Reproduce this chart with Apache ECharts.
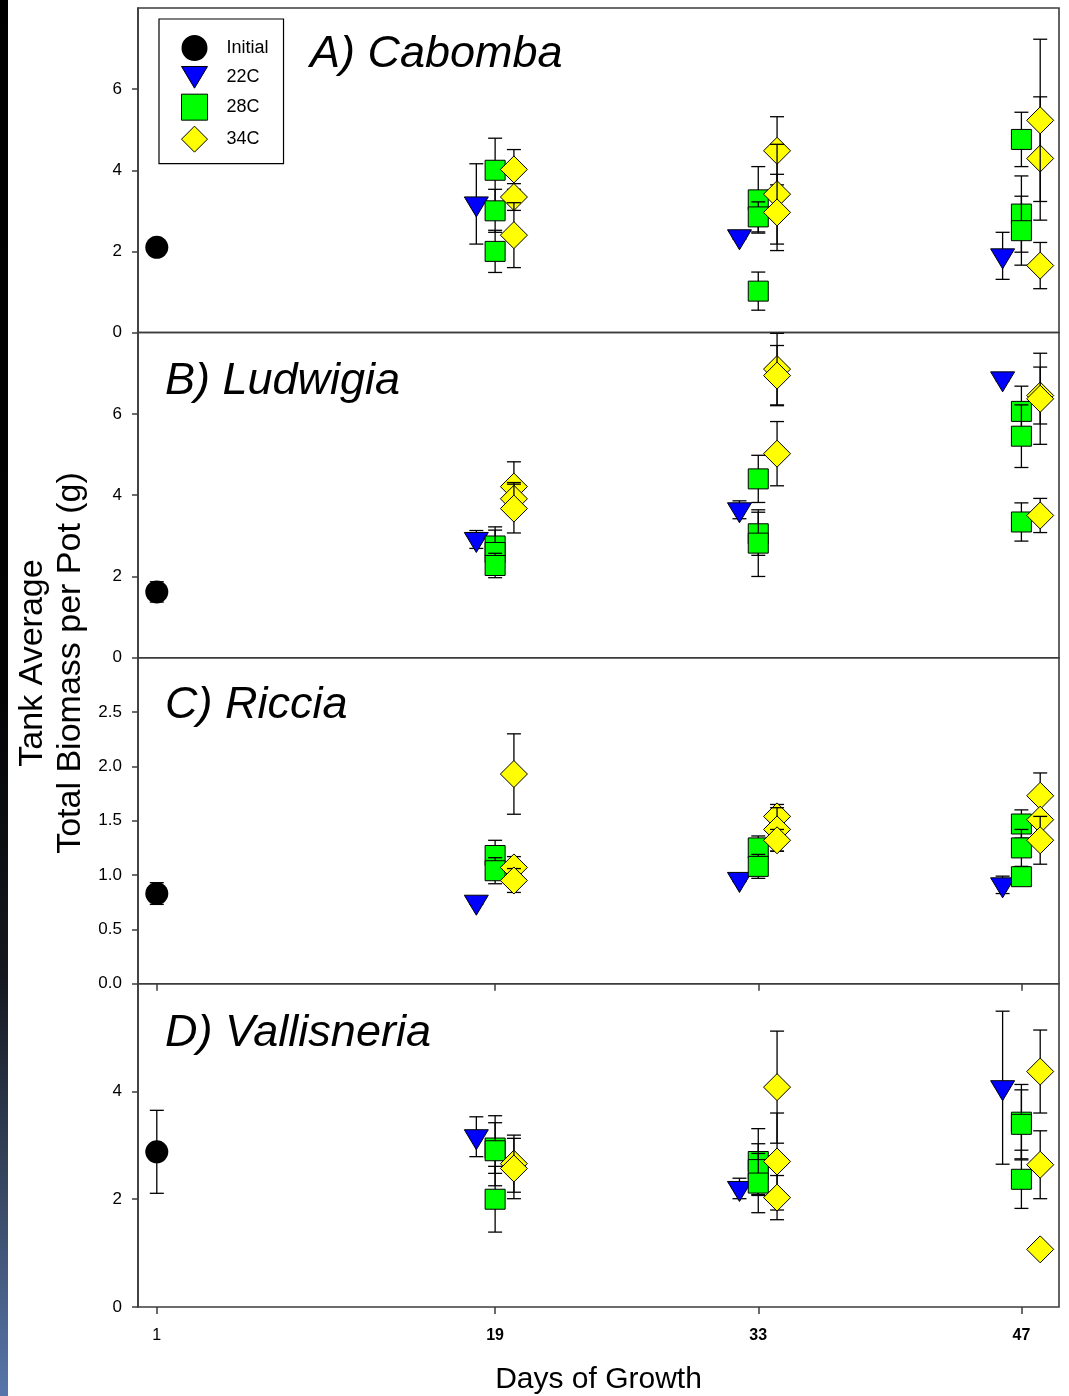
<!DOCTYPE html>
<html>
<head>
<meta charset="utf-8">
<script src="https://cdn.jsdelivr.net/npm/echarts@6/dist/echarts.min.js"></script>
<style>
  html, body { margin: 0; padding: 0; background: #ffffff; }
  #chart { width: 1069px; height: 1396px; }
</style>
</head>
<body>
<div id="chart"></div>
<script>
// ---------------- DATA ([day, mean, error]) ----------------
const dayTicks = [1, 19, 33, 47];
const groupNames = ['Initial', '22C', '28C', '34C'];

// A) Cabomba
const cabombaInitial = [[1, 2.10, 0.08]];
const cabomba22C = [[19, 3.17, 0.99], [33, 2.36, 0.06], [47, 1.89, 0.58]];
const cabomba28C = [[19, 4.00, 0.79], [19, 3.00, 0.53], [19, 2.00, 0.52],
                    [33, 3.27, 0.82], [33, 2.85, 0.37], [33, 1.02, 0.47],
                    [47, 4.76, 0.67], [47, 2.92, 0.94], [47, 2.51, 0.85]];
const cabomba34C = [[19, 4.02, 0.49], [19, 3.34, 0.33], [19, 2.40, 0.80],
                    [33, 4.48, 0.84], [33, 3.41, 1.23], [33, 2.96, 0.94],
                    [47, 4.29, 1.52], [47, 5.23, 2.00], [47, 1.65, 0.57]];

// B) Ludwigia
const ludwigiaInitial = [[1, 1.62, 0.25]];
const ludwigia22C = [[19, 2.91, 0.22], [33, 3.64, 0.22], [47, 6.86, 0.05]];
const ludwigia28C = [[19, 2.75, 0.47], [19, 2.59, 0.55], [19, 2.27, 0.30],
                     [33, 4.40, 0.58], [33, 3.05, 0.53], [33, 2.82, 0.82],
                     [47, 6.06, 0.62], [47, 5.45, 0.77], [47, 3.34, 0.47]];
const ludwigia34C = [[19, 4.21, 0.61], [19, 3.91, 0.40], [19, 3.67, 0.60],
                     [33, 7.10, 0.88], [33, 6.94, 0.74], [33, 5.02, 0.79],
                     [47, 6.45, 0.70], [47, 6.37, 1.12], [47, 3.50, 0.42]];

// C) Riccia
const ricciaInitial = [[1, 0.83, 0.10]];
const riccia22C = [[19, 0.75, 0.02], [33, 0.96, 0.02], [47, 0.91, 0.08]];
const riccia28C = [[19, 1.18, 0.14], [19, 1.04, 0.12],
                   [33, 1.25, 0.11], [33, 1.08, 0.11],
                   [47, 1.47, 0.13], [47, 1.25, 0.17], [47, 0.985, 0.05]];
const riccia34C = [[19, 1.93, 0.37], [19, 1.07, 0.10], [19, 0.95, 0.11],
                   [33, 1.54, 0.11], [33, 1.42, 0.20], [33, 1.32, 0.10],
                   [47, 1.73, 0.21], [47, 1.51, 0.05], [47, 1.32, 0.22]];

// D) Vallisneria
const vallisneriaInitial = [[1, 2.88, 0.77]];
const vallisneria22C = [[19, 3.16, 0.37], [33, 2.20, 0.19], [47, 4.07, 1.42]];
const vallisneria28C = [[19, 2.95, 0.47], [19, 2.90, 0.65], [19, 2.00, 0.61],
                        [33, 2.70, 0.61], [33, 2.55, 0.48], [33, 2.30, 0.55],
                        [47, 3.43, 0.70], [47, 3.39, 0.64], [47, 2.37, 0.54]];
const vallisneria34C = [[19, 2.66, 0.53], [19, 2.57, 0.56],
                        [33, 4.08, 1.04], [33, 2.70, 0.90], [33, 2.03, 0.41],
                        [47, 4.37, 0.77], [47, 2.64, 0.63], [47, 1.07, 0.05]];

const panelTitles = ['A) Cabomba', 'B) Ludwigia', 'C) Riccia', 'D) Vallisneria'];
const panelYMax = [8, 8, 3, 6];
const panelYStep = [2, 2, 0.5, 2];
const panelData = [
  [cabombaInitial, cabomba22C, cabomba28C, cabomba34C],
  [ludwigiaInitial, ludwigia22C, ludwigia28C, ludwigia34C],
  [ricciaInitial, riccia22C, riccia28C, riccia34C],
  [vallisneriaInitial, vallisneria22C, vallisneria28C, vallisneria34C]
];

// ---------------- STYLE / LAYOUT ----------------
const FONT = '"Liberation Sans", Arial, Helvetica, sans-serif';
const gridTops = [8, 332.5, 657.8, 983.7];
const gridHeights = [324.5, 325.3, 325.9, 324];
const titleLefts = [310, 165, 165, 165];
const titleBaselines = [68, 395, 718.5, 1046.7];
const groupOffset = [0, -1, 0, 1];            // horizontal jitter (days)
const groupColor = ['#000000', '#0000ff', '#00ff00', '#ffff00'];
const groupShape = ['circle', 'triangle', 'square', 'diamond'];
const AX = '#3c3c3c';

function symbolEl(shape, c, color) {
  const cx = c[0], cy = c[1];
  const st = { fill: color, stroke: '#000', lineWidth: 1 };
  if (shape === 'circle') {
    return { type: 'circle', shape: { cx, cy, r: 11.5 }, style: { fill: color } };
  }
  if (shape === 'triangle') {
    return { type: 'polygon', shape: { points: [[cx - 12, cy - 7], [cx + 12, cy - 7], [cx, cy + 13]] }, style: st };
  }
  if (shape === 'square') {
    return { type: 'rect', shape: { x: cx - 10, y: cy - 10, width: 20, height: 20 }, style: st };
  }
  return { type: 'polygon', shape: { points: [[cx, cy - 13.5], [cx + 13.5, cy], [cx, cy + 13.5], [cx - 13.5, cy]] }, style: st };
}

function makeRender(gi) {
  return function (params, api) {
    const x = api.value(0), y = api.value(1), e = api.value(2);
    const c = api.coord([x, y]);
    const t = api.coord([x, y + e]);
    const b = api.coord([x, y - e]);
    const ls = { stroke: '#000', lineWidth: 1.3 };
    return {
      type: 'group',
      children: [
        { type: 'line', shape: { x1: c[0], y1: t[1], x2: c[0], y2: b[1] }, style: ls },
        { type: 'line', shape: { x1: c[0] - 7, y1: t[1], x2: c[0] + 7, y2: t[1] }, style: ls },
        { type: 'line', shape: { x1: c[0] - 7, y1: b[1], x2: c[0] + 7, y2: b[1] }, style: ls },
        symbolEl(groupShape[gi], c, groupColor[gi])
      ]
    };
  };
}

const grids = [], xAxes = [], yAxes = [], series = [], titles = [];
for (let p = 0; p < 4; p++) {
  grids.push({
    left: 138, right: 10, top: gridTops[p], height: gridHeights[p],
    show: true, borderColor: AX, borderWidth: 1.6, backgroundColor: 'transparent'
  });
  const xa = { gridIndex: p, type: 'value', min: 0, max: 49, splitLine: { show: false } };
  if (p < 2) {
    xa.show = false;
  } else {
    xa.axisLine = { show: false };
    xa.axisTick = { show: true, customValues: dayTicks, length: 7, lineStyle: { color: AX, width: 1.5 } };
    if (p === 2) {
      xa.axisLabel = { show: false };
    } else {
      xa.axisLabel = {
        show: true, customValues: dayTicks, margin: 21, fontSize: 16, color: '#000', fontFamily: FONT,
        formatter: v => (v === 1 ? '{n|' + v + '}' : '{b|' + v + '}'),
        rich: {
          n: { fontSize: 16, fontFamily: FONT, color: '#000' },
          b: { fontSize: 16, fontFamily: FONT, color: '#000', fontWeight: 'bold' }
        }
      };
      xa.name = 'Days of Growth';
      xa.nameLocation = 'middle';
      xa.nameGap = 58;
      xa.nameTextStyle = { fontSize: 30, fontFamily: FONT, color: '#000' };
    }
  }
  xAxes.push(xa);
  yAxes.push({
    gridIndex: p, type: 'value', min: 0, max: panelYMax[p], interval: panelYStep[p],
    axisLine: { show: true, lineStyle: { color: AX, width: 1.6 } },
    axisTick: { show: true, length: 6, lineStyle: { color: AX, width: 1.5 } },
    axisLabel: {
      show: true, showMaxLabel: false, margin: 16, fontSize: 17, color: '#000', fontFamily: FONT,
      formatter: v => (panelYStep[p] < 1 ? v.toFixed(1) : String(v))
    },
    splitLine: { show: false }
  });
  for (let g = 0; g < 4; g++) {
    series.push({
      name: groupNames[g],
      type: 'custom',
      xAxisIndex: p, yAxisIndex: p,
      itemStyle: { color: groupColor[g], borderColor: '#000', borderWidth: 1 },
      renderItem: makeRender(g),
      data: panelData[p][g].map(d => [d[0] + groupOffset[g], d[1], d[2]]),
      silent: true,
      z: 2 + g
    });
  }
  titles.push({
    text: panelTitles[p], left: titleLefts[p], top: titleBaselines[p] - 36, padding: 0,
    textStyle: { fontSize: 45, fontStyle: 'italic', fontWeight: 'normal', fontFamily: FONT, color: '#000' }
  });
}

const chart = echarts.init(document.getElementById('chart'), null, { renderer: 'canvas' });
chart.setOption({
  backgroundColor: '#ffffff',
  animation: false,
  title: titles,
  grid: grids,
  xAxis: xAxes,
  yAxis: yAxes,
  series: series,
  legend: {
    show: true, selectedMode: false, orient: 'vertical',
    left: 159, top: 19,
    padding: [16, 15, 11, 22],
    itemWidth: 26, itemHeight: 26, itemGap: 5,
    borderColor: '#000', borderWidth: 1.2, backgroundColor: '#fff',
    textStyle: { fontSize: 18, fontFamily: FONT, color: '#000', padding: [0, 0, 0, 14] },
    data: [
      { name: 'Initial', icon: 'path://M12,1A11,11,0,1,1,11.99,1Z', itemStyle: { color: '#000', borderWidth: 0 } },
      { name: '22C', icon: 'path://M0,0L24,0L12,20Z', itemStyle: { color: '#0000ff', borderColor: '#000', borderWidth: 1 } },
      { name: '28C', icon: 'path://M0,0L21,0L21,21L0,21Z', itemStyle: { color: '#00ff00', borderColor: '#000', borderWidth: 1 } },
      { name: '34C', icon: 'diamond', itemStyle: { color: '#ffff00', borderColor: '#000', borderWidth: 1 } }
    ]
  },
  graphic: [
    {
      type: 'rect', left: 0, top: 0, z: -10, silent: true,
      shape: { x: 0, y: 0, width: 8, height: 1396 },
      style: {
        fill: {
          type: 'linear', x: 0, y: 0, x2: 0, y2: 1,
          colorStops: [
            { offset: 0, color: '#000000' },
            { offset: 0.5, color: '#040405' },
            { offset: 0.7, color: '#15181f' },
            { offset: 0.86, color: '#394a66' },
            { offset: 1, color: '#5876ab' }
          ]
        }
      }
    },
    {
      type: 'text', x: 52, y: 663, rotation: Math.PI / 2, silent: true,
      style: {
        text: 'Tank Average\nTotal Biomass per Pot (g)',
        font: '34px ' + FONT, fill: '#000',
        textAlign: 'center', textVerticalAlign: 'middle', lineHeight: 38
      }
    }
  ]
});
</script>
</body>
</html>
